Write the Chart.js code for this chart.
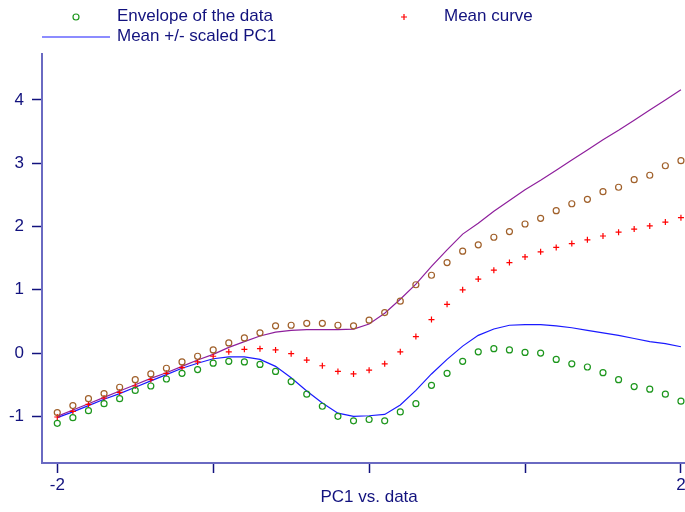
<!DOCTYPE html>
<html>
<head>
<meta charset="utf-8">
<script src="https://cdn.jsdelivr.net/npm/chart.js@4.4.1/dist/chart.umd.min.js"></script>
<style>
  html, body { margin: 0; padding: 0; background: #fff; }
  #pc-chart { display: block; }
</style>
</head>
<body>
<canvas id="pc-chart" width="685" height="512"></canvas>
<script>
// grid of PC1 scores
const pcScores = [
  -2.0, -1.9, -1.8, -1.7, -1.6, -1.5, -1.4, -1.3, -1.2, -1.1,
  -1.0, -0.9, -0.8, -0.7, -0.6, -0.5, -0.4, -0.3, -0.2, -0.1,
  0.0, 0.1, 0.2, 0.3, 0.4, 0.5, 0.6, 0.7, 0.8, 0.9,
  1.0, 1.1, 1.2, 1.3, 1.4, 1.5, 1.6, 1.7, 1.8, 1.9, 2.0
];

// envelope of the data (upper / lower)
const envelopeUpper = [
  -0.94, -0.83, -0.72, -0.64, -0.54, -0.42, -0.33, -0.24, -0.14, -0.05,
  0.05, 0.16, 0.24, 0.32, 0.43, 0.44, 0.47, 0.47, 0.44, 0.43,
  0.52, 0.64, 0.82, 1.08, 1.23, 1.43, 1.61, 1.71, 1.83, 1.92,
  2.04, 2.13, 2.25, 2.36, 2.43, 2.55, 2.62, 2.74, 2.81, 2.96, 3.04
];
const envelopeLower = [
  -1.11, -1.02, -0.91, -0.80, -0.72, -0.59, -0.52, -0.41, -0.32, -0.26,
  -0.16, -0.13, -0.14, -0.18, -0.29, -0.45, -0.65, -0.84, -1.00, -1.07,
  -1.05, -1.07, -0.93, -0.80, -0.51, -0.32, -0.13, 0.02, 0.07, 0.05,
  0.01, 0.00, -0.10, -0.17, -0.22, -0.31, -0.42, -0.53, -0.57, -0.65, -0.76
];

const meanCurve = [
  -1.01, -0.92, -0.81, -0.71, -0.62, -0.52, -0.42, -0.32, -0.23, -0.14,
  -0.05, 0.02, 0.06, 0.07, 0.05, -0.01, -0.11, -0.20, -0.29, -0.33,
  -0.27, -0.17, 0.02, 0.26, 0.53, 0.77, 1.00, 1.17, 1.31, 1.43,
  1.52, 1.60, 1.67, 1.73, 1.79, 1.85, 1.91, 1.96, 2.01, 2.07, 2.14
];

// mean + scaled PC1 / mean - scaled PC1
const meanPlusPC1 = [
  -1.00, -0.90, -0.80, -0.70, -0.60, -0.50, -0.40, -0.31, -0.21, -0.11,
  -0.02, 0.09, 0.18, 0.27, 0.33, 0.36, 0.37, 0.37, 0.37, 0.38,
  0.46, 0.63, 0.85, 1.09, 1.37, 1.63, 1.88, 2.05, 2.24, 2.41,
  2.58, 2.73, 2.89, 3.05, 3.21, 3.37, 3.52, 3.68, 3.84, 4.00, 4.16
];
const meanMinusPC1 = [
  -1.02, -0.93, -0.83, -0.73, -0.64, -0.54, -0.44, -0.34, -0.24, -0.16,
  -0.09, -0.06, -0.06, -0.10, -0.21, -0.39, -0.60, -0.79, -0.95, -1.00,
  -0.99, -0.97, -0.82, -0.59, -0.33, -0.10, 0.11, 0.28, 0.38, 0.44,
  0.45, 0.45, 0.43, 0.40, 0.36, 0.32, 0.28, 0.23, 0.18, 0.15, 0.10
];

const xTickValues = [-2, -1, 0, 1, 2];
const xTickLabels = ["-2", "", "", "", "2"];
const yTickValues = [-1, 0, 1, 2, 3, 4];
const yTickLabels = ["-1", "0", "1", "2", "3", "4"];

const legendLabels = ["Envelope of the data", "Mean curve", "Mean +/- scaled PC1"];
const xAxisTitle = "PC1 vs. data";

const NAVY = "#12127e";
const AXIS = "#6a6ac2";
const FONT = "'Liberation Sans', Arial, Helvetica, sans-serif";

function toPoints(values) {
  return values.map((v, i) => ({ x: pcScores[i], y: v }));
}

// legend above the plot (two symbols on the first row, the line below)
// and the axis caption centred under the middle of the PC1 range
const annotatePlugin = {
  id: "pcAnnotate",
  afterDraw(chart) {
    const ctx = chart.ctx;
    ctx.save();
    ctx.font = "17px " + FONT;
    ctx.fillStyle = NAVY;
    ctx.textBaseline = "middle";
    ctx.textAlign = "left";

    // circle
    ctx.strokeStyle = "#1c961c";
    ctx.lineWidth = 1.2;
    ctx.beginPath();
    ctx.arc(76, 17, 3, 0, Math.PI * 2);
    ctx.stroke();
    ctx.fillText(legendLabels[0], 117, 16);

    // plus
    ctx.strokeStyle = "#ff0000";
    ctx.beginPath();
    ctx.moveTo(401, 17); ctx.lineTo(407, 17);
    ctx.moveTo(404, 14); ctx.lineTo(404, 20);
    ctx.stroke();
    ctx.fillText(legendLabels[1], 444, 16);

    // line
    ctx.strokeStyle = "#1a1aff";
    ctx.beginPath();
    ctx.moveTo(42, 37); ctx.lineTo(110, 37);
    ctx.stroke();
    ctx.fillText(legendLabels[2], 117, 36);

    // x caption
    ctx.textAlign = "center";
    const cx = chart.scales.x.getPixelForValue(0);
    ctx.fillText(xAxisTitle, cx, 497);
    ctx.restore();
  }
};

const ctx = document.getElementById("pc-chart");

new Chart(ctx, {
  type: "scatter",
  data: {
    datasets: [
      {
        label: "upper",
        data: toPoints(envelopeUpper),
        pointStyle: "circle",
        pointRadius: 3,
        borderColor: "#a0602a",
        backgroundColor: "rgba(0,0,0,0)",
        borderWidth: 1.2,
        showLine: false
      },
      {
        label: "lower",
        data: toPoints(envelopeLower),
        pointStyle: "circle",
        pointRadius: 3,
        borderColor: "#1c961c",
        backgroundColor: "rgba(0,0,0,0)",
        borderWidth: 1.2,
        showLine: false
      },
      {
        label: "mean",
        data: toPoints(meanCurve),
        pointStyle: "cross",
        pointRadius: 3,
        borderColor: "#ff0000",
        backgroundColor: "#ff0000",
        borderWidth: 1.2,
        showLine: false
      },
      {
        label: "plus",
        data: toPoints(meanPlusPC1),
        showLine: true,
        pointRadius: 0,
        borderColor: "#8e1f9c",
        borderWidth: 1.2,
        tension: 0
      },
      {
        label: "minus",
        data: toPoints(meanMinusPC1),
        showLine: true,
        pointRadius: 0,
        borderColor: "#1a1aff",
        borderWidth: 1.2,
        tension: 0
      }
    ]
  },
  options: {
    responsive: false,
    animation: false,
    devicePixelRatio: 1,
    layout: { autoPadding: false, padding: { top: 54, left: 0, right: 0, bottom: 0 } },
    plugins: {
      legend: { display: false },
      tooltip: { enabled: false }
    },
    scales: {
      x: {
        type: "linear",
        min: -2.098,
        max: 2.026,
        afterBuildTicks: (scale) => {
          scale.ticks = xTickValues.map((v) => ({ value: v }));
        },
        afterFit: (scale) => {
          scale.height = 49;
          scale.paddingLeft = 0;
          scale.paddingRight = 0;
        },
        ticks: {
          autoSkip: false,
          maxRotation: 0,
          padding: 2,
          color: NAVY,
          font: { family: FONT, size: 17 },
          callback: (value) => xTickLabels[xTickValues.indexOf(value)]
        },
        grid: {
          drawOnChartArea: false,
          drawTicks: true,
          tickLength: 10,
          tickWidth: 1.5,
          tickColor: NAVY
        },
        border: { display: true, color: AXIS, width: 2 }
      },
      y: {
        type: "linear",
        min: -1.737,
        max: 4.726,
        afterBuildTicks: (scale) => {
          scale.ticks = yTickValues.map((v) => ({ value: v }));
        },
        afterFit: (scale) => {
          scale.width = 42;
          scale.paddingTop = 0;
          scale.paddingBottom = 0;
        },
        ticks: {
          autoSkip: false,
          padding: 8,
          color: NAVY,
          font: { family: FONT, size: 17 },
          callback: (value) => yTickLabels[yTickValues.indexOf(value)]
        },
        grid: {
          drawOnChartArea: false,
          drawTicks: true,
          tickLength: 10,
          tickWidth: 1.5,
          tickColor: NAVY
        },
        border: { display: true, color: AXIS, width: 2 }
      }
    }
  },
  plugins: [annotatePlugin]
});
</script>
</body>
</html>
